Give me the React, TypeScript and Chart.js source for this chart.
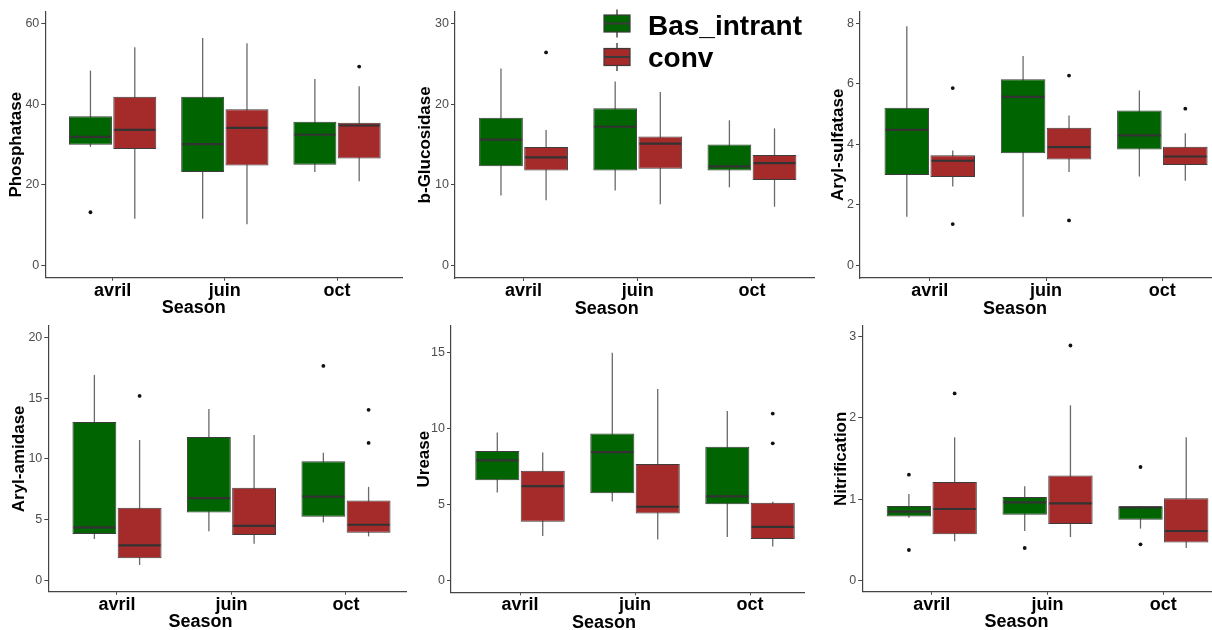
import React, { useEffect, useRef } from 'react';
import { Chart, registerables } from 'chart.js';

Chart.register(...registerables);

// ---------- DATA ----------
const seasons = ['avril', 'juin', 'oct'];
const seriesNames = ['Bas_intrant', 'conv'];
const xTitle = 'Season';

// each season: [lower whisker, Q1, median, Q3, upper whisker]
const phosBas = [[29.4, 29.9, 31.9, 37.0, 48.3], [11.6, 23.2, 30.1, 41.8, 56.4], [23.2, 25.0, 32.4, 35.6, 46.2]];
const phosConv = [[11.6, 28.9, 33.6, 41.8, 54.1], [10.2, 24.8, 34.1, 38.7, 55.1], [20.9, 26.5, 34.7, 35.4, 44.4]];
const phosBasOut = [[13.2], [], []];
const phosConvOut = [[], [], [49.3]];
const phosTicks = [0, 20, 40, 60];

const glucBas = [[8.7, 12.3, 15.6, 18.3, 24.4], [9.3, 11.8, 17.2, 19.5, 22.8], [9.7, 11.8, 12.3, 15.0, 18.0]];
const glucConv = [[8.1, 11.8, 13.4, 14.7, 16.8], [7.6, 12.0, 15.1, 16.0, 21.5], [7.3, 10.6, 12.7, 13.7, 17.0]];
const glucBasOut = [[], [], []];
const glucConvOut = [[26.4], [], []];
const glucTicks = [0, 10, 20, 30];

const sulfBas = [[1.61, 2.99, 4.48, 5.21, 7.9], [1.61, 3.71, 5.57, 6.15, 6.92], [2.94, 3.83, 4.3, 5.12, 5.78]];
const sulfConv = [[2.61, 2.92, 3.46, 3.64, 3.8], [3.09, 3.5, 3.91, 4.55, 4.95], [2.8, 3.32, 3.6, 3.92, 4.37]];
const sulfBasOut = [[], [], []];
const sulfConvOut = [[5.86, 1.37], [6.27, 1.49], [5.18]];
const sulfTicks = [0, 2, 4, 6, 8];

const amidBas = [[3.4, 3.81, 4.36, 13.04, 16.93], [4.05, 5.59, 6.77, 11.81, 14.11], [4.77, 5.23, 6.9, 9.81, 10.52]];
const amidConv = [[1.26, 1.81, 2.88, 5.97, 11.56], [3.01, 3.73, 4.49, 7.62, 11.97], [3.62, 3.92, 4.58, 6.58, 7.7]];
const amidBasOut = [[], [], [17.67]];
const amidConvOut = [[15.2], [], [14.05, 11.32]];
const amidTicks = [0, 5, 10, 15, 20];

const ureaBas = [[5.81, 6.62, 7.92, 8.53, 9.76], [5.22, 5.75, 8.46, 9.69, 15.0], [2.87, 5.04, 5.55, 8.82, 11.16]];
const ureaConv = [[2.94, 3.88, 6.23, 7.24, 8.44], [2.72, 4.43, 4.87, 7.68, 12.61], [2.26, 2.74, 3.55, 5.13, 5.2]];
const ureaBasOut = [[], [], []];
const ureaConvOut = [[], [], [11.0, 9.04]];
const ureaTicks = [0, 5, 10, 15];

const nitrBas = [[0.77, 0.784, 0.845, 0.915, 1.063], [0.607, 0.808, 0.96, 1.026, 1.157], [0.636, 0.747, 0.899, 0.911, 0.911]];
const nitrConv = [[0.48, 0.566, 0.878, 1.21, 1.76], [0.533, 0.693, 0.948, 1.29, 2.154], [0.398, 0.464, 0.607, 1.01, 1.76]];
const nitrBasOut = [[1.3, 0.373], [0.398], [1.395, 0.443]];
const nitrConvOut = [[2.3], [2.89], []];
const nitrTicks = [0, 1, 2, 3];

// ---------- STYLE ----------
const FONT = "'Liberation Sans', Arial, sans-serif";
const COLORS = ['#006400', '#A52A2A'];
const AXIS = '#444444';

interface PanelCfg {
  title: string;
  bas: number[][];
  conv: number[][];
  basOut: number[][];
  convOut: number[][];
  ticks: number[];
  yMin: number;
  yMax: number;
  xMax: number;
  left: number;
  top: number;
  width: number;
  padTop: number;
  yAxisW: number;
  xAxisH: number;
  titlePad: number;
  legend?: boolean;
}

const panels: PanelCfg[] = [
  { title: 'Phosphatase', bas: phosBas, conv: phosConv, basOut: phosBasOut, convOut: phosConvOut, ticks: phosTicks,
    yMin: -3.02, yMax: 62.9, xMax: 3.588, left: 0, top: 0, width: 403, padTop: 11.7, yAxisW: 45.3, xAxisH: 37.3, titlePad: 6.3 },
  { title: 'b-Glucosidase', bas: glucBas, conv: glucConv, basOut: glucBasOut, convOut: glucConvOut, ticks: glucTicks,
    yMin: -1.52, yMax: 31.44, xMax: 3.552, left: 405, top: 0, width: 410, padTop: 11.7, yAxisW: 50, xAxisH: 37, titlePad: 10.6, legend: true },
  { title: 'Aryl-sulfatase', bas: sulfBas, conv: sulfConv, basOut: sulfBasOut, convOut: sulfConvOut, ticks: sulfTicks,
    yMin: -0.41, yMax: 8.38, xMax: 3.427, left: 810, top: 0, width: 402, padTop: 11.7, yAxisW: 50, xAxisH: 37, titlePad: 18 },
  { title: 'Aryl-amidase', bas: amidBas, conv: amidConv, basOut: amidBasOut, convOut: amidConvOut, ticks: amidTicks,
    yMin: -0.94, yMax: 20.96, xMax: 3.533, left: 0, top: 315, width: 407, padTop: 11, yAxisW: 48.3, xAxisH: 38.3, titlePad: 9.6 },
  { title: 'Urease', bas: ureaBas, conv: ureaConv, basOut: ureaBasOut, convOut: ureaConvOut, ticks: ureaTicks,
    yMin: -0.76, yMax: 16.76, xMax: 3.478, left: 405, top: 315, width: 400, padTop: 11, yAxisW: 46, xAxisH: 37.7, titlePad: 8.9 },
  { title: 'Nitrification', bas: nitrBas, conv: nitrConv, basOut: nitrBasOut, convOut: nitrConvOut, ticks: nitrTicks,
    yMin: -0.14, yMax: 3.13, xMax: 3.42, left: 810, top: 315, width: 402, padTop: 11, yAxisW: 52.3, xAxisH: 38.3, titlePad: 21 },
];

const PANEL_H = 315;

function makePlugin(cfg: PanelCfg) {
  return {
    id: 'boxplot',
    beforeDatasetsDraw(chart: any) {
      const ctx = chart.ctx;
      const y = chart.scales.y;
      chart.data.datasets.forEach((ds: any, di: number) => {
        const meta = chart.getDatasetMeta(di);
        meta.data.forEach((el: any, i: number) => {
          const s = ds.stats[i];
          ctx.save();
          ctx.strokeStyle = '#6a6a6a';
          ctx.lineWidth = 1.3;
          ctx.beginPath();
          ctx.moveTo(el.x, y.getPixelForValue(s[0]));
          ctx.lineTo(el.x, y.getPixelForValue(s[4]));
          ctx.stroke();
          ctx.restore();
        });
      });
    },
    afterDatasetsDraw(chart: any) {
      const ctx = chart.ctx;
      const y = chart.scales.y;
      chart.data.datasets.forEach((ds: any, di: number) => {
        const meta = chart.getDatasetMeta(di);
        meta.data.forEach((el: any, i: number) => {
          const s = ds.stats[i];
          const half = el.width / 2;
          const ym = y.getPixelForValue(s[2]);
          ctx.save();
          ctx.strokeStyle = '#333333';
          ctx.lineWidth = 2.2;
          ctx.beginPath();
          ctx.moveTo(el.x - half + 1, ym);
          ctx.lineTo(el.x + half - 1, ym);
          ctx.stroke();
          ctx.fillStyle = '#111111';
          (ds.outliers[i] || []).forEach((v: number) => {
            ctx.beginPath();
            ctx.arc(el.x, y.getPixelForValue(v), 1.9, 0, Math.PI * 2);
            ctx.fill();
          });
          ctx.restore();
        });
      });
    },
    afterDraw(chart: any) {
      const ctx = chart.ctx;
      const ca = chart.chartArea;
      const xs = chart.scales.x;
      ctx.save();
      ctx.font = `bold 18px ${FONT}`;
      ctx.fillStyle = '#000000';
      ctx.textAlign = 'center';
      ctx.textBaseline = 'alphabetic';
      ctx.fillText(xTitle, xs.getPixelForValue(2) - 31, ca.bottom + 35.5);
      if (cfg.legend) {
        const kx = ca.left + 149;
        const kw = 26;
        const rows = [ca.top + 11.8, ca.top + 45.3];
        const baselines = [ca.top + 23.3, ca.top + 55];
        seriesNames.forEach((name, i) => {
          const cy = rows[i];
          ctx.strokeStyle = '#333333';
          ctx.lineWidth = 1.3;
          ctx.beginPath();
          ctx.moveTo(kx + kw / 2, cy - 14);
          ctx.lineTo(kx + kw / 2, cy + 14);
          ctx.stroke();
          ctx.fillStyle = COLORS[i];
          ctx.fillRect(kx, cy - 8.5, kw, 17);
          ctx.strokeStyle = '#3a3a3a';
          ctx.lineWidth = 1.2;
          ctx.strokeRect(kx, cy - 8.5, kw, 17);
          ctx.lineWidth = 2;
          ctx.beginPath();
          ctx.moveTo(kx, cy);
          ctx.lineTo(kx + kw, cy);
          ctx.stroke();
          ctx.fillStyle = '#000000';
          ctx.font = `bold 28px ${FONT}`;
          ctx.textAlign = 'left';
          ctx.fillText(name, kx + 44, baselines[i]);
        });
      }
      ctx.restore();
    },
  };
}

function Panel({ cfg }: { cfg: PanelCfg }) {
  const ref = useRef<HTMLCanvasElement | null>(null);
  useEffect(() => {
    if (!ref.current) return;
    const mk = (stats: number[][], outs: number[][], i: number) => ({
      label: seriesNames[i],
      data: stats.map((s, k) => ({ x: k + 1, y: [s[1], s[3]] })),
      backgroundColor: COLORS[i],
      borderColor: '#3c3c3c',
      borderWidth: 1,
      borderSkipped: false,
      stats,
      outliers: outs,
    });
    const chart = new Chart(ref.current, {
      type: 'bar',
      data: { datasets: [mk(cfg.bas, cfg.basOut, 0), mk(cfg.conv, cfg.convOut, 1)] as any },
      options: {
        animation: false,
        responsive: false,
        devicePixelRatio: 1,
        events: [],
        categoryPercentage: 0.79,
        barPercentage: 0.97,
        layout: { padding: { top: cfg.padTop, left: 0, right: 0, bottom: 0 } },
        plugins: { legend: { display: false }, tooltip: { enabled: false } },
        scales: {
          x: {
            type: 'linear',
            offset: false,
            min: 0.4,
            max: cfg.xMax,
            afterBuildTicks: (s: any) => { s.ticks = seasons.map((_, k) => ({ value: k + 1 })); },
            afterFit: (s: any) => { s.height = cfg.xAxisH; },
            ticks: {
              callback: (v: any) => seasons[Number(v) - 1],
              font: { family: FONT, size: 18, weight: 'bold', lineHeight: 1 },
              color: '#000000',
              padding: 1,
              maxRotation: 0,
              autoSkip: false,
            },
            grid: { offset: false, drawOnChartArea: false, color: AXIS, tickLength: 3 },
            border: { display: true, color: AXIS, width: 1.2 },
          },
          y: {
            type: 'linear',
            min: cfg.yMin,
            max: cfg.yMax,
            afterBuildTicks: (s: any) => { s.ticks = cfg.ticks.map((v) => ({ value: v })); },
            afterFit: (s: any) => { s.width = cfg.yAxisW; },
            ticks: {
              callback: (v: any) => String(v),
              font: { family: FONT, size: 12.5 },
              color: '#4d4d4d',
              padding: 2,
            },
            title: {
              display: true,
              text: cfg.title,
              font: { family: FONT, size: 17, weight: 'bold', lineHeight: 1.2 },
              color: '#000000',
              padding: { top: cfg.titlePad, bottom: 0 },
            },
            grid: { drawOnChartArea: false, color: AXIS, tickLength: 4 },
            border: { display: true, color: AXIS, width: 1.2 },
          },
        },
      } as any,
      plugins: [makePlugin(cfg)],
    });
    return () => chart.destroy();
  }, [cfg]);
  return (
    <canvas
      ref={ref}
      width={cfg.width}
      height={PANEL_H}
      style={{ position: 'absolute', left: cfg.left, top: cfg.top, width: cfg.width, height: PANEL_H }}
    />
  );
}

export default function App() {
  return (
    <div style={{ position: 'absolute', left: 0, top: 0, width: 1212, height: 630, overflow: 'hidden', background: '#ffffff' }}>
      {panels.map((p) => (
        <Panel key={p.title} cfg={p} />
      ))}
    </div>
  );
}
